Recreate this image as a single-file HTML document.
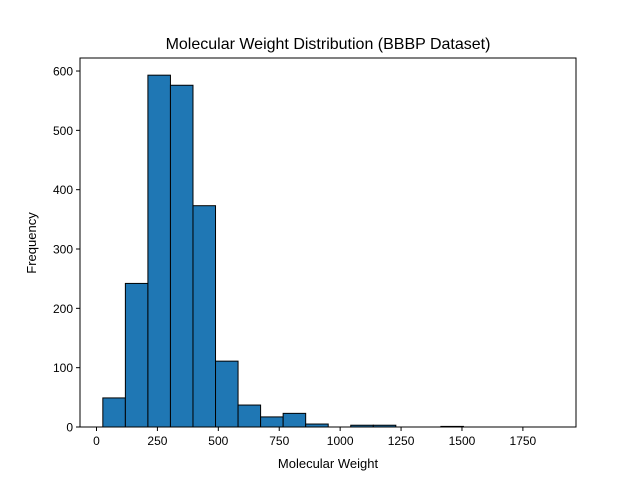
<!DOCTYPE html>
<html><head><meta charset="utf-8"><style>
body{margin:0;background:#fff}
svg{display:block;font-family:"Liberation Sans","DejaVu Sans",sans-serif}
</style></head><body>
<svg width="640" height="480">
<rect width="640" height="480" fill="#fff"/>
<g id="bars"></g>
<g id="axes"></g>
<text x="328" y="49" text-anchor="middle" font-size="16">Molecular Weight Distribution (BBBP Dataset)</text>
<text x="328" y="468" text-anchor="middle" font-size="13">Molecular Weight</text>
<text x="36" y="243" text-anchor="middle" font-size="13" transform="rotate(-90 36 243)">Frequency</text>
</svg>
<script>
const binStart = 26;
const binWidth = 92.5;
const counts = [49, 242, 593, 576, 373, 111, 37, 17, 23, 5, 0, 3, 3, 0, 0, 1, 0, 0, 0, 0];
const xTicks = [0, 250, 500, 750, 1000, 1250, 1500, 1750];
const yTicks = [0, 100, 200, 300, 400, 500, 600];

const L=80,R=576,T=58,B=427;
const xs = v => 96.5 + v*0.24365;
const ys = v => 427 - v*0.5933;
const NS="http://www.w3.org/2000/svg";
const bars=document.getElementById('bars'), axes=document.getElementById('axes');
function mk(tag,attrs,parent){const e=document.createElementNS(NS,tag);for(const k in attrs)e.setAttribute(k,attrs[k]);parent.appendChild(e);return e;}
counts.forEach((c,i)=>{
  const x0=xs(binStart+i*binWidth), x1=xs(binStart+(i+1)*binWidth);
  const r=mk('rect',{x:x0,y:ys(c),width:x1-x0,height:B-ys(c),fill:'#1f77b4',stroke:'#000','stroke-width':1},bars);
  
  
});
const frame=mk('rect',{x:L,y:T,width:R-L,height:B-T,fill:'none',stroke:'#000','stroke-width':1},axes);


xTicks.forEach(v=>{
  const x=xs(v);
  const t=mk('line',{x1:x,x2:x,y1:B,y2:B+4,stroke:'#000'},axes);
  
  
  const l=mk('text',{x:x,y:B+18,'text-anchor':'middle','font-size':12},axes);
  l.textContent=v;
  
  
});
yTicks.forEach(v=>{
  const y=ys(v);
  const t=mk('line',{x1:L-4,x2:L,y1:y,y2:y,stroke:'#000'},axes);
  
  
  const l=mk('text',{x:L-7,y:y+4.5,'text-anchor':'end','font-size':12},axes);
  l.textContent=v;
  
  
});
</script>
</body></html>
